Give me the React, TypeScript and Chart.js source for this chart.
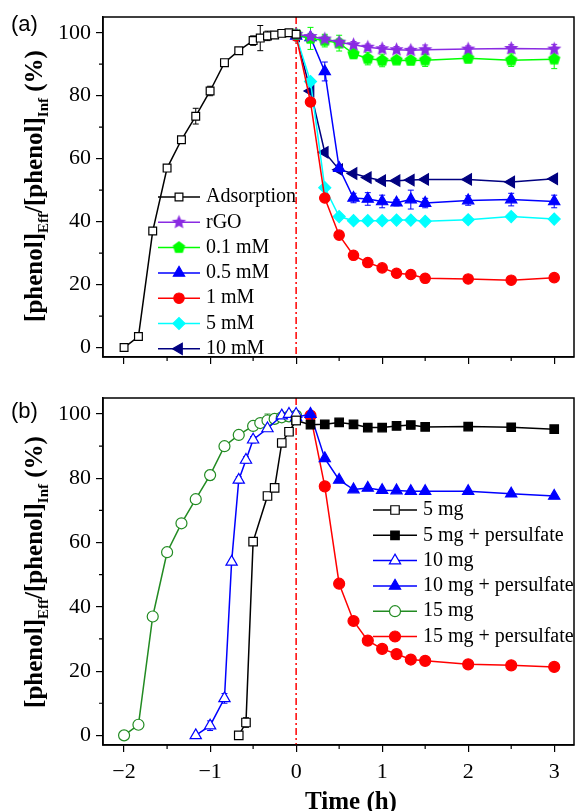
import React, { useEffect, useRef } from 'react';
import { Chart, registerables } from 'chart.js';
import * as helpers from 'chart.js/helpers';

Chart.register(...registerables);

// ---------- axis definitions ----------
const X_MIN = -2.245;
const X_MAX = 3.23;
const Y_MIN = -3;
const Y_MAX = 105;
const xTickValues = [-2, -1, 0, 1, 2, 3];
const xMinorValues = [-1.5, -0.5, 0.5, 1.5, 2.5];
const yTickValues = [0, 20, 40, 60, 80, 100];
const yMinorValues = [10, 30, 50, 70, 90];

// ---------- panel (a) data ----------
const adsTimes = [-2, -1.833, -1.667, -1.5, -1.333, -1.167, -1, -0.833, -0.667, -0.5, -0.417, -0.333, -0.25, -0.167, -0.083, 0];
const adsValues = [0, 3.5, 37, 57, 66, 73.5, 81.5, 90.5, 94.3, 97.5, 98.3, 99, 99.3, 99.8, 100, 99.5];
const adsErrors = [0, 1, 0, 0, 0, 2.5, 1.5, 0, 0, 1.5, 4, 1.5, 0, 0, 0, 0];

const reactTimes = [0, 0.167, 0.333, 0.5, 0.667, 0.833, 1, 1.167, 1.333, 1.5, 2, 2.5, 3];
const rgoValues = [99.5, 98.8, 98, 97, 96.2, 95.4, 94.9, 94.6, 94.4, 94.6, 94.8, 95, 94.8];
const rgoErrors = [0, 1, 1, 1, 1, 1, 1, 1, 1, 1.5, 1, 1.2, 1.5];
const mM01Values = [99.5, 98.2, 97.5, 96.7, 93.3, 91.8, 91.2, 91.3, 91.2, 91.3, 91.9, 91.3, 91.6];
const mM01Errors = [0, 3.5, 2, 2.5, 1.5, 2, 2, 1, 1, 2, 1.5, 2, 3];
const mM05Values = [99, 98.5, 87.7, 57, 47.5, 47.2, 46.4, 46, 47, 45.9, 46.7, 47, 46.4];
const mM05Errors = [0, 0, 3, 1, 1.5, 2, 2, 1, 3, 1.5, 1.5, 2, 2];
const mM1Values = [99, 78, 47.5, 35.7, 29.3, 27, 25.3, 23.6, 23.2, 22, 21.8, 21.4, 22.2];
const mM5Values = [99, 84.5, 50.8, 41.6, 40.3, 40.3, 40.3, 40.5, 40.5, 40.1, 40.6, 41.6, 40.8];
const mM10Values = [99, 81.5, 62, 56.5, 55.3, 54, 53, 53, 53.2, 53.4, 53.4, 52.6, 53.6];

// ---------- panel (b) data ----------
const mg5Times = [-0.667, -0.583, -0.5, -0.333, -0.25, -0.167, -0.083, 0];
const mg5Values = [0, 4, 60.3, 74.5, 77, 91, 94.5, 98];
const mg5Errors = [0, 1.5, 0, 0, 1, 1, 1, 1];
const mg10Times = [-1.167, -1, -0.833, -0.75, -0.667, -0.583, -0.5, -0.333, -0.167, -0.083, 0];
const mg10Values = [0, 3, 11.5, 54, 79.5, 85.7, 92, 95.5, 99.5, 100, 100];
const mg10Errors = [0, 1.5, 1.5, 0, 1, 1, 1, 0, 0, 0, 0];
const mg15Times = [-2, -1.833, -1.667, -1.5, -1.333, -1.167, -1, -0.833, -0.667, -0.5, -0.417, -0.333, -0.25, -0.167, -0.083, 0];
const mg15Values = [0, 3.3, 37, 57, 66, 73.5, 81, 90, 93.5, 96.3, 97.2, 98, 98.5, 99, 99.3, 99.5];
const mg15Errors = [0, 1, 1, 0.5, 0.5, 1, 1.5, 0.5, 0.5, 0.5, 0.5, 2, 0.5, 0, 0, 0];
const mg5pTimes = [0, 0.167, 0.333, 0.5, 0.667, 0.833, 1, 1.167, 1.333, 1.5, 2, 2.5, 3];
const mg5pValues = [98, 96.7, 96.8, 97.4, 96.8, 95.8, 95.8, 96.3, 96.6, 96, 96.1, 95.9, 95.3];
const mg10pTimes = [0, 0.167, 0.333, 0.5, 0.667, 0.833, 1, 1.167, 1.333, 1.5, 2, 2.5, 3];
const mg10pValues = [99, 100, 86.2, 79.5, 76.5, 77, 76.3, 76.2, 76, 76, 76, 75.2, 74.5];
const mg15pTimes = [0.167, 0.333, 0.5, 0.667, 0.833, 1, 1.167, 1.333, 1.5, 2, 2.5, 3];
const mg15pValues = [99.5, 77.5, 47.2, 35.6, 29.5, 26.9, 25.3, 23.6, 23.2, 22.1, 21.8, 21.3];

const SERIF = '"Liberation Serif", "Times New Roman", serif';

function polyImage(color: string, n: number, r: number, inner?: number) {
  const size = Math.ceil(r * 2 + 2);
  const c = document.createElement('canvas');
  c.width = size;
  c.height = size;
  const ctx = c.getContext('2d')!;
  ctx.translate(size / 2, size / 2);
  ctx.beginPath();
  const count = inner ? n * 2 : n;
  for (let i = 0; i < count; i++) {
    const rad = inner ? (i % 2 === 0 ? r : r * inner) : r;
    const a = -Math.PI / 2 + (i * 2 * Math.PI) / count;
    ctx.lineTo(rad * Math.cos(a), rad * Math.sin(a));
  }
  ctx.closePath();
  ctx.fillStyle = color;
  ctx.fill();
  return c;
}

function series(label: string, xs: number[], ys: number[], color: string, style: any, extra: any = {}) {
  return {
    label,
    data: xs.map((x, i) => ({ x, y: ys[i] })),
    borderColor: color,
    backgroundColor: color,
    borderWidth: 1.5,
    pointStyle: style,
    pointRadius: 5,
    pointBackgroundColor: color,
    pointBorderColor: color,
    pointBorderWidth: 1.2,
    pointRotation: 0,
    tension: 0,
    fill: false,
    ...extra,
  };
}

const fmt = (v: number) => (v < 0 ? '\u2212' + Math.abs(v) : String(v));

function makeScales(showXLabels: boolean, xHeight: number) {
  return {
    x: {
      type: 'linear',
      min: X_MIN,
      max: X_MAX,
      afterBuildTicks: (s: any) => {
        s.ticks = xTickValues.map((v) => ({ value: v }));
      },
      afterFit: (s: any) => {
        s.height = xHeight;
        s.paddingLeft = 0;
        s.paddingRight = 0;
      },
      grid: { display: true, drawOnChartArea: false, drawTicks: true, tickLength: 7, color: '#000', lineWidth: 1.2 },
      border: { display: true, color: '#000', width: 1.5 },
      ticks: {
        display: showXLabels,
        autoSkip: false,
        maxRotation: 0,
        padding: 7,
        color: '#000',
        font: { family: SERIF, size: 22 },
        callback: (v: number) => fmt(v),
      },
    },
    y: {
      type: 'linear',
      min: Y_MIN,
      max: Y_MAX,
      afterBuildTicks: (s: any) => {
        s.ticks = yTickValues.map((v) => ({ value: v }));
      },
      afterFit: (s: any) => {
        s.width = 103;
        s.paddingTop = 0;
        s.paddingBottom = 0;
      },
      grid: { display: true, drawOnChartArea: false, drawTicks: true, tickLength: 7, color: '#000', lineWidth: 1.2 },
      border: { display: true, color: '#000', width: 1.5 },
      ticks: {
        padding: 5,
        color: '#000',
        font: { family: SERIF, size: 22 },
        callback: (v: number) => fmt(v),
      },
    },
  };
}

const framePlugin = {
  id: 'frame',
  beforeDatasetsDraw(chart: any) {
    const { ctx, chartArea: a, scales } = chart;
    const x0 = scales.x.getPixelForValue(0);
    ctx.save();
    ctx.strokeStyle = '#FF0000';
    ctx.lineWidth = 1.5;
    ctx.setLineDash([7, 3, 2, 3]);
    ctx.beginPath();
    ctx.moveTo(x0, a.top);
    ctx.lineTo(x0, a.bottom);
    ctx.stroke();
    ctx.restore();
    chart.data.datasets.forEach((ds: any, di: number) => {
      const errs = ds.errors;
      if (!errs) return;
      const meta = chart.getDatasetMeta(di);
      ctx.save();
      ctx.strokeStyle = ds.borderColor;
      ctx.lineWidth = 1;
      meta.data.forEach((pt: any, i: number) => {
        const e = errs[i];
        if (!e) return;
        const v = ds.data[i].y;
        const y1 = scales.y.getPixelForValue(v + e);
        const y2 = scales.y.getPixelForValue(v - e);
        ctx.beginPath();
        ctx.moveTo(pt.x, y1);
        ctx.lineTo(pt.x, y2);
        ctx.moveTo(pt.x - 3, y1);
        ctx.lineTo(pt.x + 3, y1);
        ctx.moveTo(pt.x - 3, y2);
        ctx.lineTo(pt.x + 3, y2);
        ctx.stroke();
      });
      ctx.restore();
    });
  },
  afterDraw(chart: any, _args: any, opts: any) {
    const { ctx, chartArea: a, scales } = chart;
    ctx.save();
    ctx.strokeStyle = '#000';
    ctx.lineWidth = 1.5;
    ctx.strokeRect(a.left, a.top, a.right - a.left, a.bottom - a.top);
    ctx.lineWidth = 1.2;
    ctx.beginPath();
    xMinorValues.forEach((v) => {
      const x = scales.x.getPixelForValue(v);
      ctx.moveTo(x, a.bottom);
      ctx.lineTo(x, a.bottom + 4);
    });
    yMinorValues.forEach((v) => {
      const y = scales.y.getPixelForValue(v);
      ctx.moveTo(a.left, y);
      ctx.lineTo(a.left - 4, y);
    });
    ctx.stroke();
    ctx.restore();

    const L = opts && opts.legend;
    if (!L) return;
    chart.data.datasets.forEach((ds: any, i: number) => {
      const y = L.y + i * L.dy;
      ctx.save();
      ctx.strokeStyle = ds.borderColor;
      ctx.lineWidth = ds.borderWidth;
      ctx.beginPath();
      ctx.moveTo(L.x, y);
      ctx.lineTo(L.x + L.lineLen, y);
      ctx.stroke();
      ctx.fillStyle = ds.pointBackgroundColor;
      ctx.strokeStyle = ds.pointBorderColor;
      ctx.lineWidth = ds.pointBorderWidth;
      helpers.drawPoint(
        ctx,
        { pointStyle: ds.pointStyle, rotation: ds.pointRotation || 0, radius: ds.pointRadius, borderWidth: ds.pointBorderWidth } as any,
        L.x + L.lineLen / 2,
        y
      );
      ctx.fillStyle = '#000';
      ctx.font = `20px ${SERIF}`;
      ctx.textBaseline = 'middle';
      ctx.textAlign = 'left';
      ctx.fillText(ds.label, L.x + L.lineLen + L.gap, y);
      ctx.restore();
    });
  },
};

function baseOptions(padTop: number, showXLabels: boolean, xHeight: number, legend: any) {
  return {
    responsive: false,
    animation: false,
    events: [],
    layout: { autoPadding: false, padding: { top: padTop, right: 2, left: 0, bottom: 0 } },
    plugins: {
      legend: { display: false },
      tooltip: { enabled: false },
      frame: { legend },
    },
    scales: makeScales(showXLabels, xHeight),
  };
}

export default function App() {
  const refA = useRef<HTMLCanvasElement>(null);
  const refB = useRef<HTMLCanvasElement>(null);

  useEffect(() => {
    const star = polyImage('#8A2BE2', 5, 7.5, 0.45);
    const pent = polyImage('#00FF00', 5, 6.5);
    const purple = '#8A2BE2';
    const navy = '#000080';
    const dsA = [
      series('Adsorption', adsTimes, adsValues, '#000000', 'rect', { pointRadius: 5.5, pointBackgroundColor: '#FFFFFF', errors: adsErrors }),
      series('rGO', reactTimes, rgoValues, purple, star, { errors: rgoErrors }),
      series('0.1 mM', reactTimes, mM01Values, '#00FF00', pent, { errors: mM01Errors }),
      series('0.5 mM', reactTimes, mM05Values, '#0000FF', 'triangle', { pointRadius: 6.5, errors: mM05Errors }),
      series('1 mM', reactTimes, mM1Values, '#FF0000', 'circle', { pointRadius: 5.2 }),
      series('5 mM', reactTimes, mM5Values, '#00FFFF', 'rectRot', { pointRadius: 6 }),
      series('10 mM', reactTimes, mM10Values, navy, 'triangle', { pointRadius: 6.5, pointRotation: -90 }),
    ];
    const green = '#228B22';
    const dsB = [
      series('5 mg', mg5Times, mg5Values, '#000000', 'rect', { pointRadius: 6, pointBackgroundColor: '#FFFFFF', errors: mg5Errors }),
      series('5 mg + persulfate', mg5pTimes, mg5pValues, '#000000', 'rect', { pointRadius: 6 }),
      series('10 mg', mg10Times, mg10Values, '#0000FF', 'triangle', { pointRadius: 6.5, pointBackgroundColor: '#FFFFFF', errors: mg10Errors }),
      series('10 mg + persulfate', mg10pTimes, mg10pValues, '#0000FF', 'triangle', { pointRadius: 6.5 }),
      series('15 mg', mg15Times, mg15Values, green, 'circle', { pointRadius: 5.5, pointBackgroundColor: '#FFFFFF', errors: mg15Errors }),
      series('15 mg + persulfate', mg15pTimes, mg15pValues, '#FF0000', 'circle', { pointRadius: 5.5 }),
    ];

    const chartA = new Chart(refA.current!, {
      type: 'line',
      data: { datasets: dsA as any },
      options: baseOptions(17, false, 23, { x: 158, y: 197, dy: 25.3, lineLen: 42, gap: 6 }) as any,
      plugins: [framePlugin],
    });
    const chartB = new Chart(refB.current!, {
      type: 'line',
      data: { datasets: dsB as any },
      options: baseOptions(18, true, 66, { x: 373, y: 130, dy: 25.3, lineLen: 44, gap: 6 }) as any,
      plugins: [framePlugin],
    });
    return () => {
      chartA.destroy();
      chartB.destroy();
    };
  }, []);

  const yTitle = (top: number) => (
    <div
      style={{
        position: 'absolute',
        left: 36,
        top,
        transform: 'translate(-50%, -50%) rotate(-90deg)',
        whiteSpace: 'nowrap',
        font: `bold 25px ${SERIF}`,
        lineHeight: 1,
        color: '#000',
      }}
    >
      [phenol]<sub style={{ fontSize: '0.6em' }}>Eff</sub>/[phenol]<sub style={{ fontSize: '0.6em' }}>Inf</sub> (%)
    </div>
  );

  const panelLabel = (text: string, top: number) => (
    <div
      style={{
        position: 'absolute',
        left: 11,
        top,
        font: '22px "Liberation Sans", Arial, sans-serif',
        lineHeight: 1,
        color: '#000',
      }}
    >
      {text}
    </div>
  );

  return (
    <div style={{ position: 'absolute', left: 0, top: 0, width: 576, height: 811, background: '#fff' }}>
      <canvas ref={refA} width={576} height={380} style={{ position: 'absolute', left: 0, top: 0, width: 576, height: 380 }} />
      <canvas ref={refB} width={576} height={431} style={{ position: 'absolute', left: 0, top: 380, width: 576, height: 431 }} />
      {yTitle(186)}
      {yTitle(572)}
      {panelLabel('(a)', 13)}
      {panelLabel('(b)', 400)}
      <div
        style={{
          position: 'absolute',
          left: 351,
          top: 800,
          transform: 'translate(-50%, -50%)',
          whiteSpace: 'nowrap',
          font: `bold 25px ${SERIF}`,
          lineHeight: 1,
          color: '#000',
        }}
      >
        Time (h)
      </div>
    </div>
  );
}
